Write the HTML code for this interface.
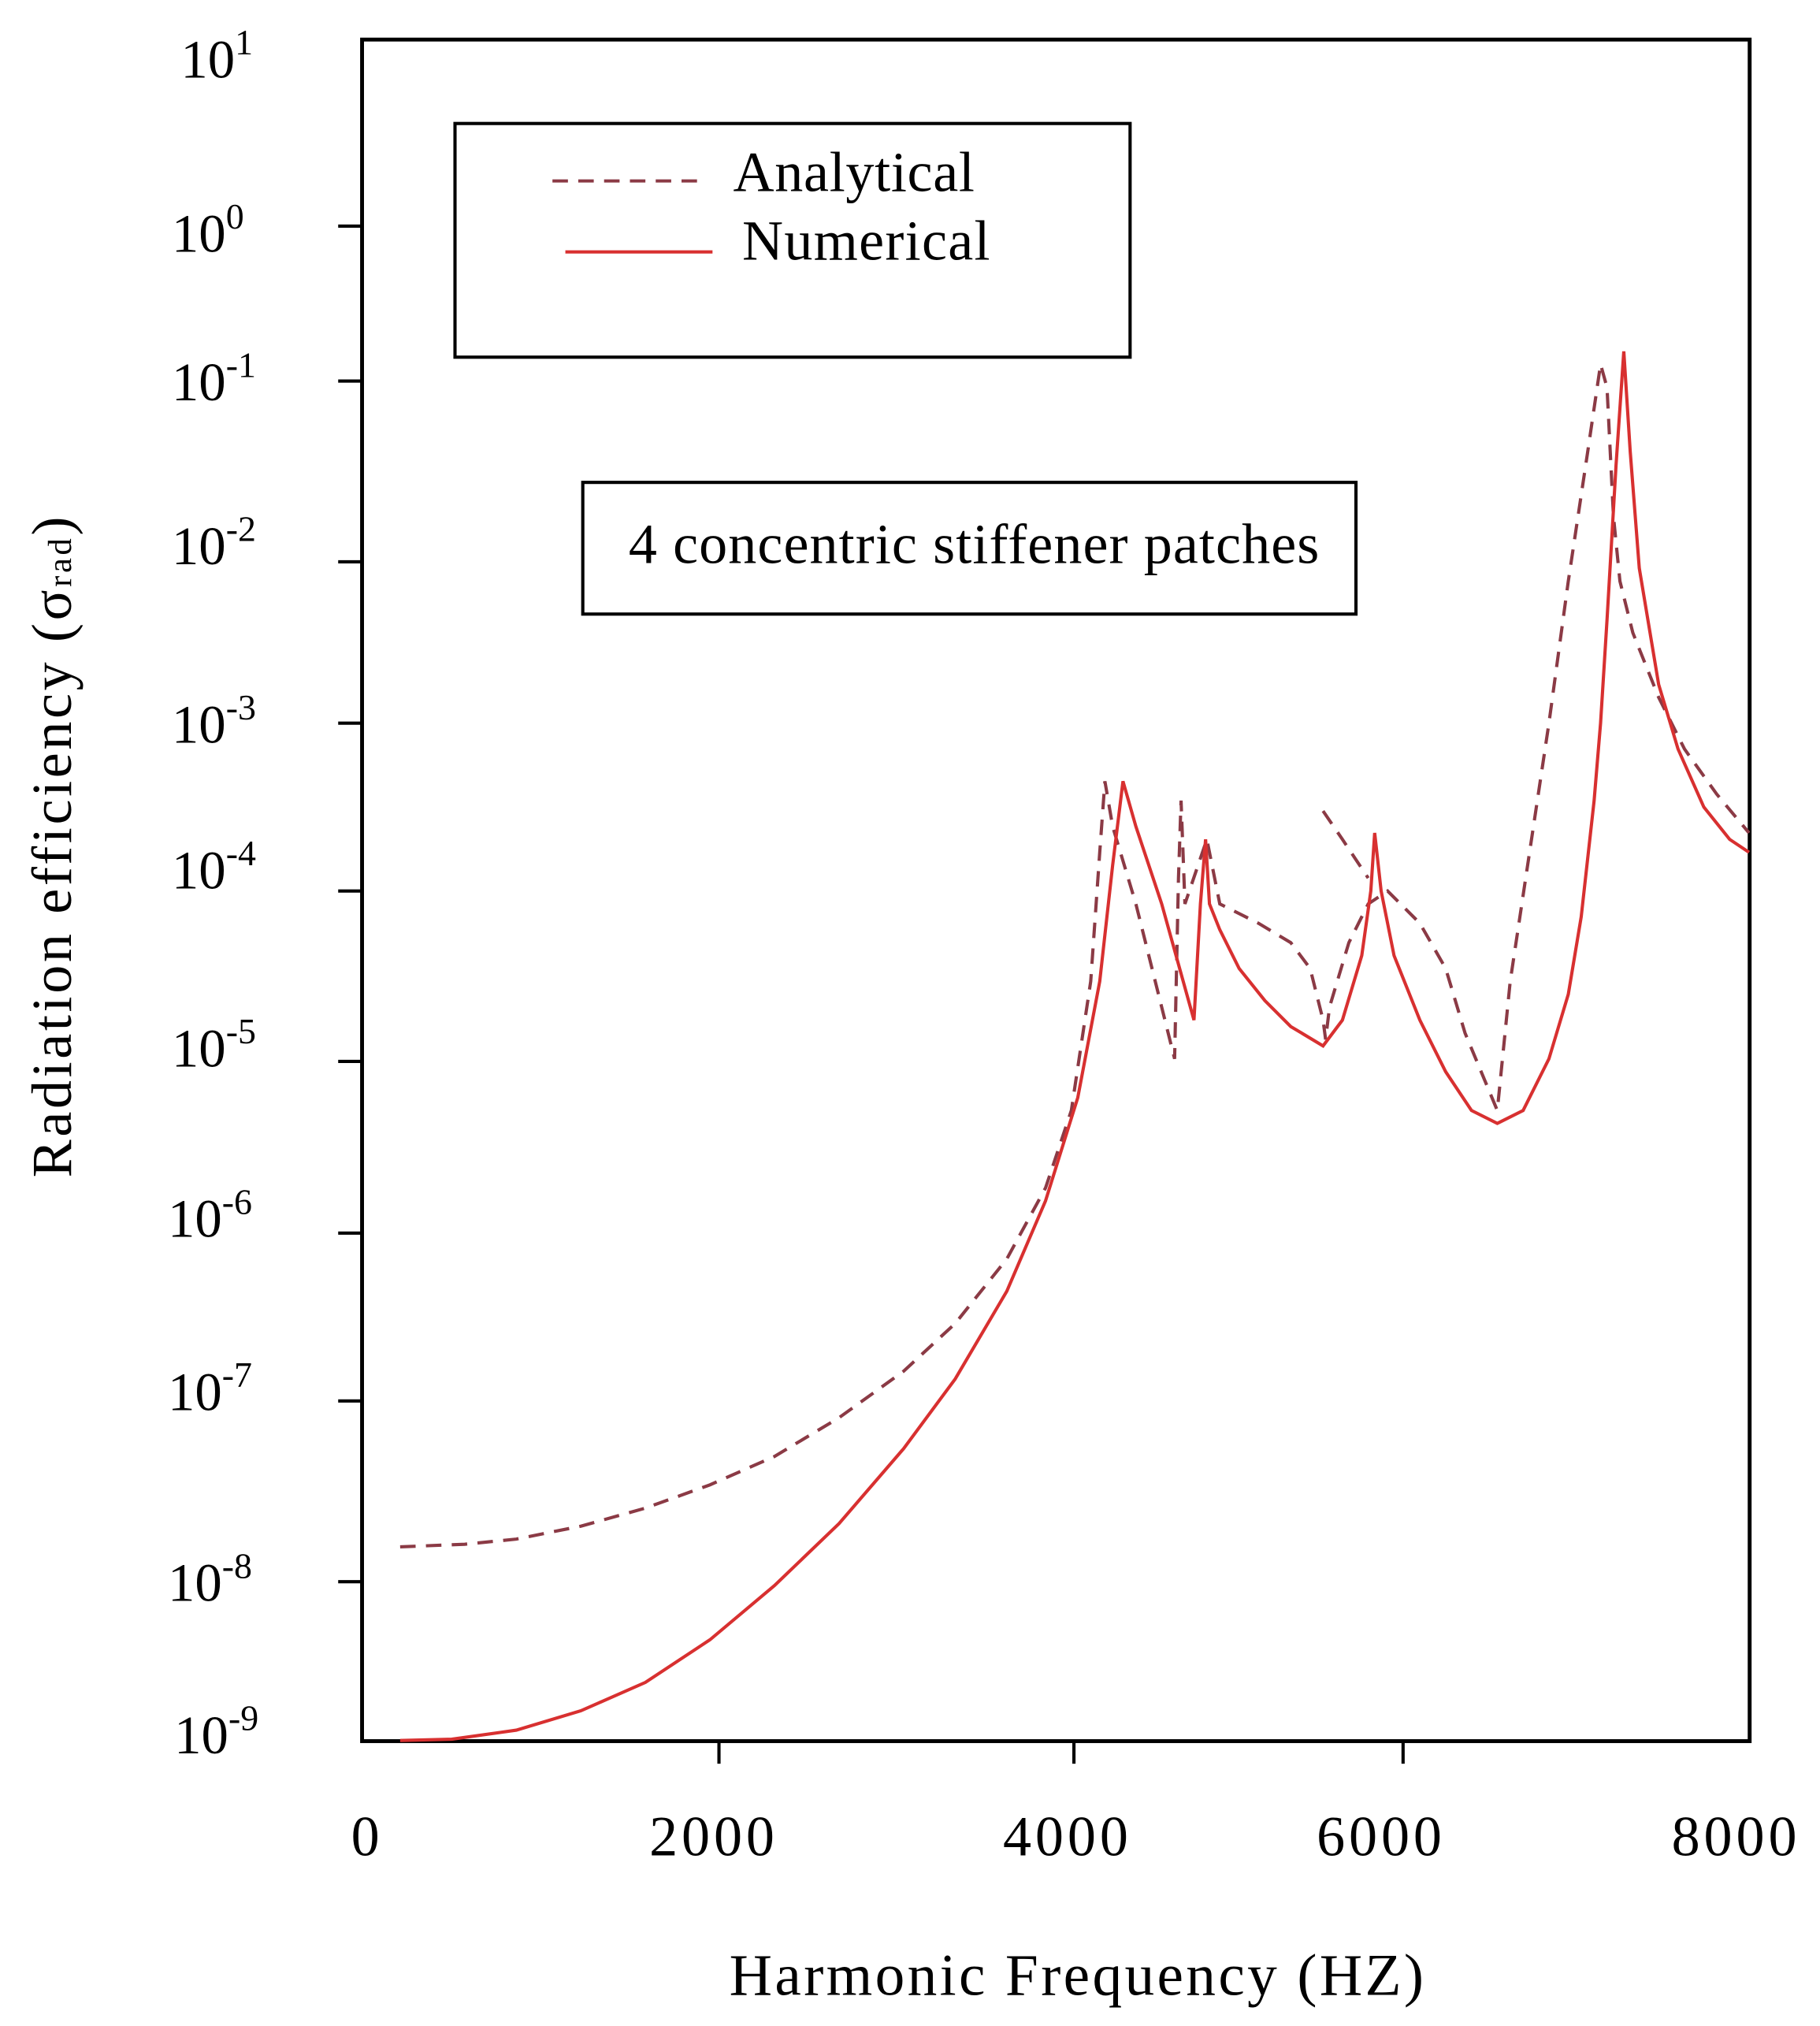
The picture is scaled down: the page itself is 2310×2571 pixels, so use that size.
<!DOCTYPE html>
<html><head><meta charset="utf-8"><style>
html,body{margin:0;padding:0;background:#fff;}
svg{display:block;}
text{font-family:"Liberation Serif",serif;fill:#000;}
</style></head><body>
<svg width="2310" height="2571" viewBox="0 0 1410 1569" xmlns="http://www.w3.org/2000/svg">
<rect x="0" y="0" width="1410" height="1569" fill="#fff"/>
<rect x="280.5" y="30.5" width="1075" height="1318" fill="none" stroke="#000" stroke-width="3"/>
<g stroke="#000" stroke-width="2.5">
<line x1="262" y1="175" x2="280" y2="175"/>
<line x1="262" y1="295" x2="280" y2="295"/>
<line x1="262" y1="435" x2="280" y2="435"/>
<line x1="262" y1="560" x2="280" y2="560"/>
<line x1="262" y1="690" x2="280" y2="690"/>
<line x1="262" y1="822" x2="280" y2="822"/>
<line x1="262" y1="955" x2="280" y2="955"/>
<line x1="262" y1="1085" x2="280" y2="1085"/>
<line x1="262" y1="1225" x2="280" y2="1225"/>
<line x1="557" y1="1348" x2="557" y2="1366"/>
<line x1="832" y1="1348" x2="832" y2="1366"/>
<line x1="1087" y1="1348" x2="1087" y2="1366"/>
</g>
<g font-size="42">
<text x="140" y="60">10<tspan font-size="28" dy="-18">1</tspan></text>
<text x="133" y="195">10<tspan font-size="28" dy="-18">0</tspan></text>
<text x="133" y="310">10<tspan font-size="28" dy="-18">-1</tspan></text>
<text x="133" y="437">10<tspan font-size="28" dy="-18">-2</tspan></text>
<text x="133" y="575">10<tspan font-size="28" dy="-18">-3</tspan></text>
<text x="133" y="688">10<tspan font-size="28" dy="-18">-4</tspan></text>
<text x="133" y="826">10<tspan font-size="28" dy="-18">-5</tspan></text>
<text x="130" y="958">10<tspan font-size="28" dy="-18">-6</tspan></text>
<text x="130" y="1092">10<tspan font-size="28" dy="-18">-7</tspan></text>
<text x="130" y="1240">10<tspan font-size="28" dy="-18">-8</tspan></text>
<text x="135" y="1358">10<tspan font-size="28" dy="-18">-9</tspan></text>
<text x="272" y="1437" font-size="44">0</text>
<text x="503" y="1437" font-size="44" textLength="97">2000</text>
<text x="777" y="1437" font-size="44" textLength="97">4000</text>
<text x="1020" y="1437" font-size="44" textLength="97">6000</text>
<text x="1295" y="1437" font-size="44" textLength="97">8000</text>
<text x="565" y="1545" font-size="46" textLength="538">Harmonic Frequency (HZ)</text>
<text transform="translate(55,912) rotate(-90)" font-size="44" textLength="512">Radiation efficiency (σ<tspan font-size="26">rad</tspan>)</text>
</g>
<rect x="352.5" y="95.5" width="523" height="181" fill="none" stroke="#000" stroke-width="2.5"/>
<line x1="428" y1="140" x2="548" y2="140" stroke="#8b3a45" stroke-width="2.5" stroke-dasharray="12,8"/>
<line x1="438" y1="195" x2="552" y2="195" stroke="#d83030" stroke-width="2.5"/>
<text x="568" y="148" font-size="44" textLength="187">Analytical</text>
<text x="575" y="201" font-size="44" textLength="192">Numerical</text>
<rect x="451.5" y="373.5" width="599" height="102" fill="none" stroke="#000" stroke-width="2.5"/>
<text x="487" y="436" font-size="44" textLength="535">4 concentric stiffener patches</text>
<polyline fill="none" stroke="#8b3a45" stroke-width="2.5" stroke-dasharray="12,8" points="310,1198 360,1196 400,1192 450,1182 500,1168 550,1150 600,1128 650,1098 700,1062 740,1025 780,975 810,920 830,860 845,760 852,660 856,605 862,640 880,700 895,760 910,820 913,680 915,620 918,700 935,650 945,700 975,715 1000,730 1015,750 1025,790 1027,805 1030,780 1045,730 1060,700 1075,690 1100,715 1120,750 1135,800 1160,860 1170,760 1185,660 1200,560 1215,450 1230,350 1240,282 1245,300 1250,400 1255,450 1265,490 1285,540 1305,580 1330,615 1355,645"/>
<polyline fill="none" stroke="#8b3a45" stroke-width="2.5" stroke-dasharray="12,8" points="1025,628 1040,650 1050,665 1060,680"/>
<polyline fill="none" stroke="#d83030" stroke-width="2.5" points="310,1348 350,1347 400,1340 450,1325 500,1303 550,1270 600,1228 650,1180 700,1122 740,1068 780,1000 810,930 835,850 852,760 862,670 870,605 880,640 900,700 925,790 930,700 934,650 937,700 945,720 960,750 980,775 1000,795 1025,810 1040,790 1055,740 1062,690 1065,645 1070,690 1080,740 1100,790 1120,830 1140,860 1160,870 1180,860 1200,820 1215,770 1225,710 1235,620 1240,560 1245,480 1252,360 1258,272 1263,350 1270,440 1285,530 1300,580 1320,625 1340,650 1355,660"/>
</svg>
</body></html>
